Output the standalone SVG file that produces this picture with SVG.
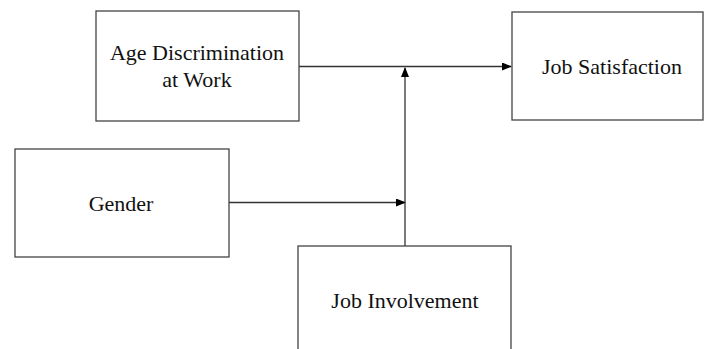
<svg xmlns="http://www.w3.org/2000/svg" width="704" height="349" viewBox="0 0 704 349">
<style>
.box{fill:#fff;stroke:#444;stroke-width:1.3}
.lbl{font-family:"Liberation Serif","Times New Roman",serif;font-size:22px;fill:#111;text-anchor:middle}
.con{stroke:#333;stroke-width:1.3;fill:none}
</style>
<defs>
<marker id="ah" markerWidth="10" markerHeight="8" refX="9" refY="4" orient="auto" markerUnits="userSpaceOnUse">
<path d="M0,0 L10,4 L0,8 Z" fill="#000"/>
</marker>
</defs>
<rect width="704" height="349" fill="#fff"/>
<g id="connectors">
<line class="con" x1="299" y1="66.5" x2="511" y2="66.5" marker-end="url(#ah)"/>
<line class="con" x1="229" y1="202.5" x2="405" y2="202.5" marker-end="url(#ah)"/>
<line class="con" x1="405" y1="246" x2="405" y2="68" marker-end="url(#ah)"/>
</g>
<g id="age">
<rect class="box" x="96" y="11" width="203" height="110"/>
<text class="lbl" x="197" y="60">Age Discrimination</text>
<text class="lbl" x="197" y="87">at Work</text>
</g>
<g id="satisfaction">
<rect class="box" x="512" y="12" width="191" height="108"/>
<text class="lbl" x="612" y="74">Job Satisfaction</text>
</g>
<g id="gender">
<rect class="box" x="15" y="149" width="214" height="108"/>
<text class="lbl" x="121" y="211">Gender</text>
</g>
<g id="involvement">
<rect class="box" x="298" y="246" width="213" height="120"/>
<text class="lbl" x="405" y="308">Job Involvement</text>
</g>
</svg>
